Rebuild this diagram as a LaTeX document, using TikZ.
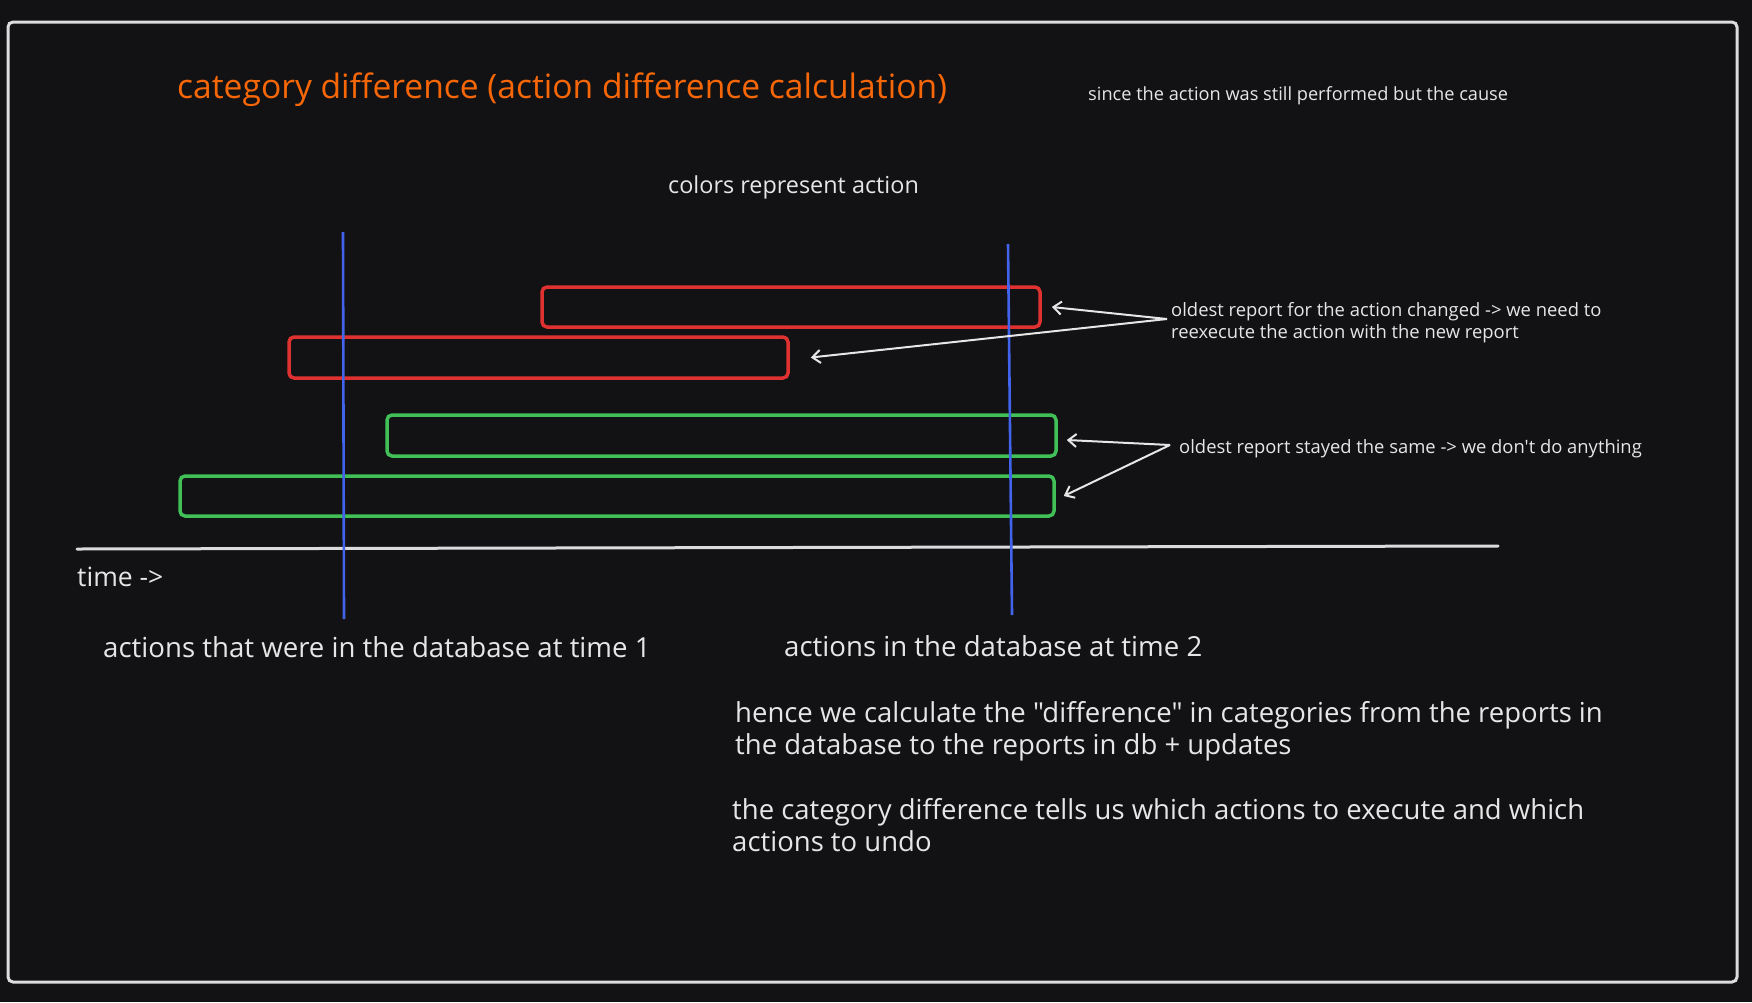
\documentclass[tikz,border=0pt]{standalone}
\usepackage{fontspec}
\setmainfont{Open Sans}[Ligatures=TeXOff]
\usetikzlibrary{arrows.meta}
\definecolor{bg}{HTML}{121214}
\definecolor{fg}{HTML}{E6E6E6}
\definecolor{frame}{HTML}{DCDCDC}
\definecolor{ttl}{HTML}{F76707}
\definecolor{rd}{HTML}{E03131}
\definecolor{gr}{HTML}{40C057}
\definecolor{bl}{HTML}{4263EB}
\tikzset{
  txt/.style={text=fg, inner sep=0pt, anchor=west, align=left},
  bar/.style={draw=#1, line width=3.5pt, rounded corners=5pt, inner sep=0pt},
  arr/.style={draw=fg, line width=2pt, -{Straight Barb[length=8pt,width=13pt,line width=2pt]}},
  blueline/.style={draw=bl, line width=2.6pt},
  timeline/.style={draw=frame, line width=3pt, line cap=round}
}
\begin{document}
\begin{tikzpicture}[x=1pt,y=-1pt]
\fill[bg] (0,0) rectangle (1752,1002);
\useasboundingbox (0,0) rectangle (1752,1002);
\draw[frame, line width=3pt, rounded corners=5pt] (8,22) rectangle (1737,982);

% texts
\node[txt, text=ttl, font=\fontsize{33.6}{40}\selectfont] (title) at (177,90) {category difference (action difference calculation)};
\node[txt, font=\fontsize{18.2}{22}\selectfont] (cause) at (1088,96) {since the action was still performed but the cause};
\node[txt, font=\fontsize{23.4}{28}\selectfont] (colors) at (668,187) {colors represent action};

% bars
\node[bar=rd, minimum width=498pt, minimum height=40pt] (r1) at (791,307) {};
\node[bar=rd, minimum width=499pt, minimum height=41pt] (r2) at (538.5,357.5) {};
\node[bar=gr, minimum width=669pt, minimum height=41pt] (g1) at (721.5,435.5) {};
\node[bar=gr, minimum width=874pt, minimum height=40pt] (g2) at (617,496) {};

% timeline
\coordinate (tl0) at (77,549);
\coordinate (tl1) at (1498,546);
\draw[timeline] (tl0) -- (tl1);
\node[txt, font=\fontsize{26.5}{32}\selectfont] (time) at (77,577) {time ->};

% blue time markers
\coordinate (b1t) at (343,232);
\coordinate (b1b) at (344,619);
\coordinate (b2t) at (1008,244);
\coordinate (b2b) at (1012,615);
\draw[blueline] (b1t) -- (b1b);
\draw[blueline] (b2t) -- (b2b);

\node[txt, font=\fontsize{27.6}{33}\selectfont] (t1) at (103,647) {actions that were in the database at time 1};
\node[txt, font=\fontsize{27.6}{33}\selectfont] (t2) at (784,646) {actions in the database at time 2};

% annotations
\node[txt, font=\fontsize{18.4}{22}\selectfont] (changed) at (1171,323) {oldest report for the action changed -> we need to\\reexecute the action with the new report};
\node[txt, font=\fontsize{18.4}{22}\selectfont] (same) at (1179,449) {oldest report stayed the same -> we don't do anything};
\coordinate (s1) at (1167,319);
\coordinate (s2) at (1170,445);
\draw[arr] (s1) -- ([xshift=10pt]r1.east);
\draw[arr] (s1) -- ([xshift=21pt]r2.east);
\draw[arr] (s2) -- ([xshift=9pt,yshift=-4.5pt]g1.east);
\draw[arr] (s2) -- ([xshift=8pt]g2.east);

% paragraphs
\node[txt, font=\fontsize{27.5}{32.4}\selectfont] (p1) at (735,731) {hence we calculate the "difference" in categories from the reports in\\the database to the reports in db + updates};
\node[txt, font=\fontsize{27.5}{32.4}\selectfont] (p2) at (732,825) {the category difference tells us which actions to execute and which\\actions to undo};
\end{tikzpicture}
\end{document}
